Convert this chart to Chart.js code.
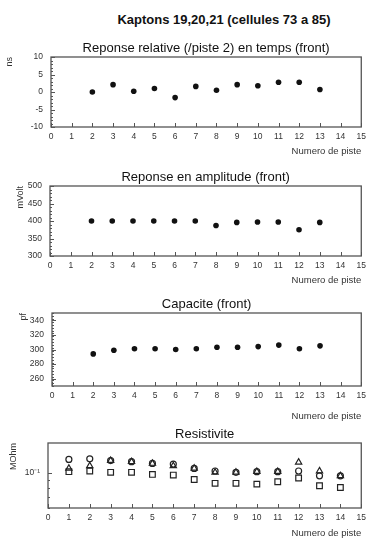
<!DOCTYPE html>
<html>
<head>
<meta charset="utf-8">
<script src="https://cdn.jsdelivr.net/npm/chart.js@4.4.1/dist/chart.umd.min.js"></script>
<style>
html, body { margin: 0; padding: 0; background: #fff; overflow: hidden; }
#page { position: relative; width: 371px; height: 543px; overflow: hidden; }
#mainTitle { position: absolute; left: 74px; top: 12px; width: 300px; text-align: center;
	font: bold 13px "Liberation Sans", Arial, sans-serif; color: #111; }
canvas { position: absolute; left: 0; }
#c1 { top: 38px; }
#c2 { top: 165px; }
#c3 { top: 293px; }
#c4 { top: 423px; }
</style>
</head>
<body>
<div id="page">
	<div id="mainTitle">Kaptons 19,20,21 (cellules 73 a 85)</div>
	<canvas id="c1" width="371" height="119"></canvas>
	<canvas id="c2" width="371" height="121"></canvas>
	<canvas id="c3" width="371" height="129"></canvas>
	<canvas id="c4" width="371" height="116"></canvas>
</div>
<script>
// Podaci ocitani sa slike
var pistes = [2, 3, 4, 5, 6, 7, 8, 9, 10, 11, 12, 13];
var tempsNs = [0.0, 2.1, 0.2, 1.0, -1.6, 1.6, 0.5, 2.1, 1.8, 2.8, 2.8, 0.7];
var amplitudeMv = [400, 400, 400, 400, 400, 400, 387, 396, 397, 397, 375, 396];
var capacitePf = [294, 299, 301, 301, 300, 301, 303, 303, 304, 306, 301, 305];

var pistesRes = [1, 2, 3, 4, 5, 6, 7, 8, 9, 10, 11, 12, 13, 14];
var resCercles = [0.122, 0.123, 0.120, 0.118, 0.115, 0.114, 0.107, 0.103, 0.101, 0.102, 0.102, 0.103, 0.096, 0.096];
var resTriangles = [0.107, 0.111, 0.120, 0.118, 0.115, 0.111, 0.107, 0.101, 0.101, 0.102, 0.102, 0.117, 0.103, 0.096];
var resCarres = [0.102, 0.103, 0.101, 0.101, 0.098, 0.097, 0.091, 0.086, 0.086, 0.085, 0.088, 0.093, 0.083, 0.081];

var xTicks = [0, 1, 2, 3, 4, 5, 6, 7, 8, 9, 10, 11, 12, 13, 14, 15];
var tempsTicks = [-10, -5, 0, 5, 10];
var amplitudeTicks = [300, 350, 400, 450, 500];
var capaciteTicks = [260, 280, 300, 320, 340];
var resTicks = [0.1];
var resMinorTicks = [0.06, 0.07, 0.08, 0.09];

var FONT = '"Liberation Sans", Arial, sans-serif';

var toPoints = function(xs, ys) {
	return xs.map(function(x, i) { return {x: x, y: ys[i]}; });
};

// Okvir, unutrasnji podeoci i naslov panela (kao u PAW-u)
var pawFrame = {
	id: 'pawFrame',
	afterDraw: function(chart, args, opts) {
		var c = chart.ctx, a = chart.chartArea, xs = chart.scales.x, ys = chart.scales.y;
		c.save();
		c.strokeStyle = '#555';
		c.lineWidth = 1.3;
		c.strokeRect(a.left, a.top, a.right - a.left, a.bottom - a.top);
		c.lineWidth = 1;
		c.beginPath();
		xs.ticks.forEach(function(t) {
			var px = Math.round(xs.getPixelForValue(t.value)) + 0.5;
			c.moveTo(px, a.bottom); c.lineTo(px, a.bottom - 4);
		});
		ys.ticks.forEach(function(t) {
			var py = Math.round(ys.getPixelForValue(t.value)) + 0.5;
			c.moveTo(a.left, py); c.lineTo(a.left + 4, py);
		});
		var minor = opts.minor || [];
		if (opts.minorStep) {
			for (var v = ys.min; v <= ys.max; v += opts.minorStep) minor.push(v);
		}
		minor.forEach(function(v) {
			var py = Math.round(ys.getPixelForValue(v)) + 0.5;
			c.moveTo(a.left, py); c.lineTo(a.left + 2, py);
		});
		c.stroke();
		c.fillStyle = '#111';
		c.font = '13px ' + FONT;
		c.textAlign = 'center';
		c.textBaseline = 'middle';
		c.fillText(opts.title, (a.left + a.right) / 2, a.top - 9);
		c.restore();
	}
};

var makePanel = function(id, p) {
	return new Chart(document.getElementById(id), {
		type: 'scatter',
		data: { datasets: p.datasets },
		options: {
			responsive: false,
			animation: false,
			layout: { padding: { top: p.padTop, right: 371 - p.right, left: 0, bottom: 0 } },
			plugins: {
				legend: { display: false },
				tooltip: { enabled: false },
				pawFrame: { title: p.title, minorStep: p.minorStep, minor: p.minor }
			},
			scales: {
				x: {
					type: 'linear', min: 0, max: 15,
					afterBuildTicks: function(s) { s.ticks = xTicks.map(function(v) { return {value: v}; }); },
					afterFit: function(s) { s.height = p.xH; },
					grid: { display: false, drawTicks: false },
					border: { display: false },
					ticks: { autoSkip: false, maxRotation: 0, padding: 5, color: '#333', font: { family: FONT, size: 8.5 } },
					title: { display: true, text: 'Numero de piste', align: 'end', color: '#333', padding: 0,
						font: { family: FONT, size: 9.5 } }
				},
				y: {
					type: p.yType || 'linear', min: p.yMin, max: p.yMax,
					afterBuildTicks: function(s) { s.ticks = p.yTicks.map(function(v) { return {value: v}; }); },
					afterFit: function(s) { s.width = p.left; },
					grid: { display: false, drawTicks: false },
					border: { display: false },
					ticks: { padding: 8, color: '#333', font: { family: FONT, size: 8.5 }, callback: p.yLabel },
					title: { display: true, text: p.yTitle, align: 'end', color: '#333', padding: { top: p.yTitlePad },
						font: { family: FONT, size: 9 } }
				}
			}
		},
		plugins: [pawFrame]
	});
};

var filled = function(data) {
	return { data: data, pointStyle: 'circle', pointRadius: 2.8, backgroundColor: '#111', borderColor: '#111', borderWidth: 0 };
};

var open = function(data, style, r) {
	return { data: data, pointStyle: style, pointRadius: r, backgroundColor: 'rgba(0,0,0,0)', borderColor: '#222', borderWidth: 1.2 };
};

makePanel('c1', {
	title: 'Reponse relative (/piste 2) en temps (front)',
	padTop: 19, xH: 30, left: 51, right: 365,
	yMin: -10, yMax: 10, yTicks: tempsTicks, minorStep: 1, yTitle: 'ns', yTitlePad: 4,
	datasets: [filled(toPoints(pistes, tempsNs))]
});

makePanel('c2', {
	title: 'Reponse en amplitude (front)',
	padTop: 21, xH: 30, left: 50, right: 366,
	yMin: 300, yMax: 500, yTicks: amplitudeTicks, minorStep: 10, yTitle: 'mVolt', yTitlePad: 15,
	datasets: [filled(toPoints(pistes, amplitudeMv))]
});

makePanel('c3', {
	title: 'Capacite (front)',
	padTop: 20, xH: 36, left: 52, right: 363,
	yMin: 250, yMax: 350, yTicks: capaciteTicks, minorStep: 4, yTitle: 'pf', yTitlePad: 18,
	datasets: [filled(toPoints(pistes, capacitePf))]
});

makePanel('c4', {
	title: 'Resistivite',
	padTop: 20, xH: 31, left: 48, right: 365,
	yType: 'logarithmic', yMin: 0.06, yMax: 0.155, yTicks: resTicks, minor: resMinorTicks.slice(),
	yLabel: function() { return '10\u207B\u00B9'; },
	yTitle: 'MOhm', yTitlePad: 8,
	datasets: [
		open(toPoints(pistesRes, resCarres), 'rect', 4),
		open(toPoints(pistesRes, resTriangles), 'triangle', 3.6),
		open(toPoints(pistesRes, resCercles), 'circle', 3)
	]
});
</script>
</body>
</html>
